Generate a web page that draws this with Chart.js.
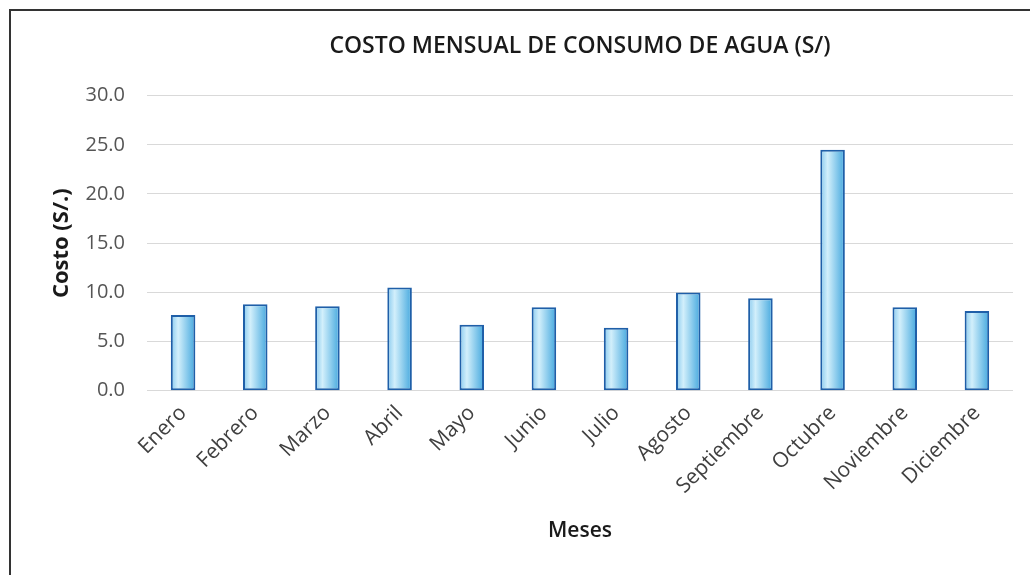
<!DOCTYPE html>
<html>
<head>
<meta charset="utf-8">
<script src="https://cdn.jsdelivr.net/npm/chart.js@4.4.1/dist/chart.umd.min.js"></script>
<style>
  html,body{margin:0;padding:0;background:#fff;}
  #wrap{position:absolute;left:0;top:0;width:1030px;height:575px;}
  #frame{position:absolute;left:9px;top:9px;width:1030px;height:580px;border-left:2px solid #333;border-top:2px solid #333;box-sizing:border-box;pointer-events:none;}
</style>
</head>
<body>
<div id="wrap"><canvas id="c" width="1030" height="575"></canvas></div>
<div id="frame"></div>
<script>
const categories = ["Enero","Febrero","Marzo","Abril","Mayo","Junio","Julio","Agosto","Septiembre","Octubre","Noviembre","Diciembre"];
const costValues = [7.7, 8.8, 8.6, 10.5, 6.7, 8.5, 6.4, 10.0, 9.4, 24.5, 8.5, 8.1];
const chartTitle = "COSTO MENSUAL DE CONSUMO DE AGUA (S/)";
const yAxisTitle = "Costo (S/.)";
const xAxisTitle = "Meses";

const BAR_PCT = 0.34;

function barGradient(context) {
  const chart = context.chart;
  const xs = chart.scales && chart.scales.x;
  if (!xs || !chart.chartArea || context.dataIndex === undefined) return '#a8dcf5';
  const cx = xs.getPixelForValue(context.dataIndex);
  const w = (xs.width / categories.length) * BAR_PCT;
  const g = chart.ctx.createLinearGradient(cx - w/2, 0, cx + w/2, 0);
  g.addColorStop(0, '#86c9ee');
  g.addColorStop(0.3, '#d2effb');
  g.addColorStop(1, '#44a8de');
  return g;
}

new Chart(document.getElementById('c'), {
  type: 'bar',
  data: {
    labels: categories,
    datasets: [{
      data: costValues,
      backgroundColor: barGradient,
      borderColor: '#1f5fa8',
      borderWidth: 2,
      borderSkipped: false,
      barPercentage: BAR_PCT,
      categoryPercentage: 1.0
    }]
  },
  options: {
    responsive: false,
    animation: false,
    devicePixelRatio: 1,
    layout: { padding: { left: 40, right: 17, top: 24, bottom: 31 } },
    plugins: {
      legend: { display: false },
      tooltip: { enabled: false },
      title: {
        display: true,
        fullSize: false,
        text: chartTitle,
        color: '#1a1a1a',
        font: { family: 'Open Sans', size: 23, weight: '600' },
        padding: { top: 9, bottom: 35 }
      }
    },
    scales: {
      x: {
        grid: { display: false },
        border: { display: false },
        ticks: {
          color: '#404040',
          font: { family: 'Open Sans', size: 21 },
          maxRotation: 45, minRotation: 45,
          padding: 2
        },
        title: {
          display: true,
          text: xAxisTitle,
          color: '#1a1a1a',
          font: { family: 'Open Sans', size: 21, weight: '600' },
          padding: { top: 18, bottom: 0 }
        }
      },
      y: {
        min: 0, max: 30,
        afterFit: (scale) => { scale.width = 107; },
        ticks: {
          stepSize: 5,
          color: '#555555',
          font: { family: 'Open Sans', size: 20 },
          padding: 22,
          callback: v => Number(v).toFixed(1)
        },
        grid: { color: '#d9d9d9', lineWidth: 1, drawTicks: false },
        border: { display: false },
        title: {
          display: true,
          text: yAxisTitle,
          color: '#1a1a1a',
          font: { family: 'Open Sans', size: 22, weight: 'bold' },
          padding: { top: 9, bottom: 0 }
        }
      }
    }
  }
});
</script>
</body>
</html>
